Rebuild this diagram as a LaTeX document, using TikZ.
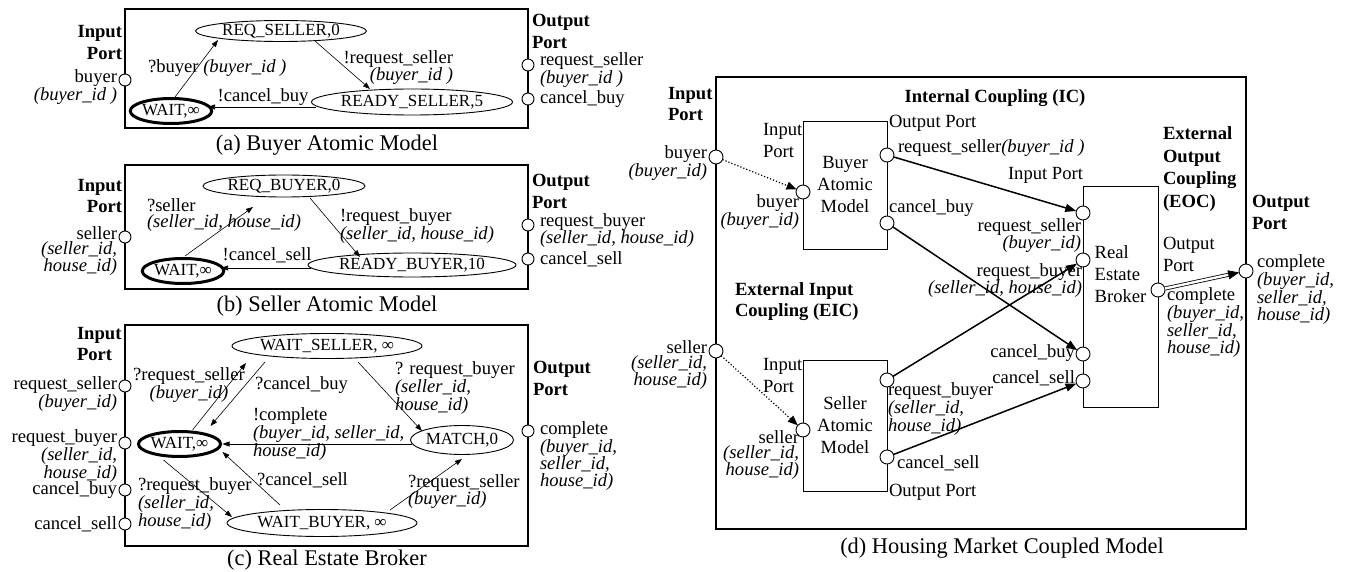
\documentclass[tikz,border=0pt]{standalone}
\usepackage{fontspec}
\setmainfont{Liberation Serif}
\usetikzlibrary{shapes.geometric,arrows.meta,calc}

\begin{document}
\begin{tikzpicture}[x=1pt,y=-1pt,
  every node/.style={inner sep=0pt, outer sep=0pt},
  txt/.style={font=\fontsize{18.6}{15}\selectfont},
  txtw/.style={font=\fontsize{18.6}{22}\selectfont},
  hdr/.style={font=\fontsize{18.6}{21.5}\selectfont\bfseries},
  captxt/.style={font=\fontsize{22.4}{24}\selectfont},
  stnode/.style={ellipse, draw, line width=0.9pt, font=\fontsize{17}{18}\selectfont},
  initst/.style={stnode, line width=3pt},
  port/.style={circle, draw, fill=white, line width=0.9pt, minimum size=12pt},
  bport/.style={port, minimum size=14pt},
  panel/.style={draw, line width=1.1pt},
  mbox/.style={draw, line width=0.9pt, font=\fontsize{18.6}{22}\selectfont},
  trans/.style={line width=0.6pt, -{Triangle[length=7pt,width=5pt]}},
  cpl/.style={line width=1.5pt, -{Triangle[length=11pt,width=8pt]}},
  dotarr/.style={line width=1.2pt, dotted, -{Triangle[length=10pt,width=8pt]}},
  dbl/.style={line width=0.8pt, double, double distance=2.4pt, -{Triangle[length=11pt,width=9pt]}}
]
\useasboundingbox (0,0) rectangle (1345,572);

% ---------------- (a) Buyer atomic model ----------------
\node[panel, minimum width=403pt, minimum height=119pt] (fa) at (326.5,68.5) {};
\node[hdr, align=right, anchor=east] (fa-in) at (122,42.5) {Input\\Port};
\node[hdr, align=left, anchor=west] (fa-out) at (532,31.5) {Output\\Port};
\node[port] (a-buyer) at (125,80) {};
\node[txt, align=right, anchor=east] (a-buyer-l) at (117,87.5) {buyer\\\textit{(buyer\_id )}};
\node[port] (a-rs) at (528,65) {};
\node[txt, align=left, anchor=west] (a-rs-l) at (540,70) {request\_seller\\\textit{(buyer\_id )}};
\node[port] (a-cb) at (528,99) {};
\node[txt, anchor=west] (a-cb-l) at (540,99) {cancel\_buy};
\node[initst, minimum width=75pt, minimum height=25pt] (wa) at (171,111) {WAIT,∞};
\node[stnode, minimum width=171pt, minimum height=21pt] (rs) at (281,31) {REQ\_SELLER,0};
\node[stnode, minimum width=200pt, minimum height=26pt] (rdy) at (412,102) {READY\_SELLER,5};
\draw[trans] ($(wa.center)+(4,-14)$) -- ($(rs.center)+(-63,9)$);
\draw[trans] ($(rs.center)+(34,10)$) -- ($(rdy.center)+(-42,-13)$);
\draw[trans] ($(rdy.center)+(-96,5)$) -- ($(wa.center)+(37,-4)$);
\node[txt, anchor=west] (a-t1) at (148,68) {?buyer \textit{(buyer\_id )}};
\node[txt, align=right, anchor=east] (a-t2) at (453,67.5) {!request\_seller\\\textit{(buyer\_id )}};
\node[txt] (a-t3) at (263,97) {!cancel\_buy};
\node[captxt] (a-cap) at (327,145) {(a) Buyer Atomic Model};

% ---------------- (b) Seller atomic model ----------------
\node[panel, minimum width=403pt, minimum height=124pt] (fb) at (326.5,227) {};
\node[hdr, align=right, anchor=east] (fb-in) at (122,196) {Input\\Port};
\node[hdr, align=left, anchor=west] (fb-out) at (532,191.5) {Output\\Port};
\node[port] (b-seller) at (125,237) {};
\node[txt, align=right, anchor=east] (b-seller-l) at (117,251) {seller\\\textit{(seller\_id,}\\\textit{house\_id)}};
\node[port] (b-rb) at (528,225) {};
\node[txt, align=left, anchor=west] (b-rb-l) at (540,230.5) {request\_buyer\\\textit{(seller\_id, house\_id)}};
\node[port] (b-cs) at (528,259) {};
\node[txt, anchor=west] (b-cs-l) at (540,259) {cancel\_sell};
\node[initst, minimum width=77pt, minimum height=25pt] (wb) at (183,271) {WAIT,∞};
\node[stnode, minimum width=162pt, minimum height=22pt] (rb) at (284,186) {REQ\_BUYER,0};
\node[stnode, minimum width=208pt, minimum height=24pt] (rdb) at (412,265) {READY\_BUYER,10};
\draw[trans] ($(wb.center)+(2,-15)$) -- ($(rb.center)+(-31,21)$);
\draw[trans] ($(rb.center)+(26,12)$) -- ($(rdb.center)+(-52,-8)$);
\draw[trans] ($(rdb.center)+(-101,3)$) -- ($(wb.center)+(38,-3)$);
\node[txt, align=left, anchor=west, font=\fontsize{18.6}{16}\selectfont] (b-t1) at (147,215) {?seller\\\textit{(seller\_id, house\_id)}};
\node[txt, align=left, anchor=west] (b-t2) at (340,226) {!request\_buyer\\\textit{(seller\_id, house\_id)}};
\node[txt] (b-t3) at (267,255) {!cancel\_sell};
\node[captxt] (b-cap) at (327,306) {(b) Seller Atomic Model};

% ---------------- (c) Real estate broker ----------------
\node[panel, minimum width=403pt, minimum height=221pt] (fc) at (326.5,435.5) {};
\node[hdr, align=left, anchor=west] (fc-in) at (77,344) {Input\\Port};
\node[hdr, align=left, anchor=west] (fc-out) at (533,378.5) {Output\\Port};
\node[port] (c-rs) at (125,386) {};
\node[port] (c-rb) at (125,443) {};
\node[port] (c-cb) at (125,490) {};
\node[port] (c-cs) at (125,524) {};
\node[port] (c-co) at (528,431) {};
\node[txt, align=right, anchor=east] (c-rs-l) at (117,394) {request\_seller\\\textit{(buyer\_id)}};
\node[txt, align=right, anchor=east] (c-rb-l) at (117,456) {request\_buyer\\\textit{(seller\_id,}\\\textit{house\_id)}};
\node[txt, anchor=east] (c-cb-l) at (117,490) {cancel\_buy};
\node[txt, anchor=east] (c-cs-l) at (117,524) {cancel\_sell};
\node[txt, align=left, anchor=west] (c-co-l) at (540,456) {complete\\\textit{(buyer\_id,}\\\textit{seller\_id,}\\\textit{house\_id)}};
\node[initst, minimum width=82pt, minimum height=25pt] (wc) at (179.5,444) {WAIT,∞};
\node[stnode, minimum width=190pt, minimum height=25pt] (ws) at (327,346) {WAIT\_SELLER, ∞};
\node[stnode, minimum width=103pt, minimum height=29pt] (mt) at (462,440) {MATCH,0};
\node[stnode, minimum width=190pt, minimum height=27pt] (wbu) at (322,523) {WAIT\_BUYER, ∞};
\draw[trans] ($(wc.center)+(13,-14)$) -- ($(ws.center)+(-81,17)$);
\draw[trans] ($(ws.center)+(-62,16)$) -- ($(wc.center)+(31,-18)$);
\draw[trans] ($(ws.center)+(31,16)$) -- ($(mt.center)+(-40,-9)$);
\draw[trans] ($(mt.center)+(-50,4)$) -- ($(wc.center)+(43,0)$);
\draw[trans] ($(wbu.center)+(-42,-18)$) -- ($(wc.center)+(43,8)$);
\draw[trans] ($(wc.center)+(-16,16)$) -- ($(wbu.center)+(-90,-6)$);
\draw[trans] ($(wbu.center)+(68,-13)$) -- ($(mt.center)+(0,19)$);
\node[txt, align=center] (c-t1) at (189,385) {?request\_seller\\\textit{(buyer\_id)}};
\node[txt, anchor=west] (c-t2) at (255,385) {?cancel\_buy};
\node[txt, align=left, anchor=west] (c-t3) at (395,388) {? request\_buyer\\\textit{(seller\_id,}\\\textit{house\_id)}};
\node[txt, align=left, anchor=west] (c-t4) at (253,434) {!complete\\\textit{(buyer\_id, seller\_id,}\\\textit{house\_id)}};
\node[txt, anchor=west] (c-t5) at (257,480) {?cancel\_sell};
\node[txt, align=left, anchor=west] (c-t6) at (138,504) {?request\_buyer\\\textit{(seller\_id,}\\\textit{house\_id)}};
\node[txt, align=left, anchor=west] (c-t7) at (408,491.5) {?request\_seller\\\textit{(buyer\_id)}};
\node[captxt] (c-cap) at (327,560) {(c) Real Estate Broker};

% ---------------- (d) Housing market coupled model ----------------
\node[panel, minimum width=530pt, minimum height=452pt] (cm) at (981,303) {};
\node[hdr, align=left, anchor=west] (d-in) at (668,104) {Input\\Port};
\node[bport] (d-buyer) at (716,157) {};
\node[txt, align=right, anchor=east] (d-buyer-l) at (707,163.5) {buyer\\\textit{(buyer\_id)}};
\node[bport] (d-seller) at (716,351) {};
\node[txt, align=right, anchor=east] (d-seller-l) at (707,365) {seller\\\textit{(seller\_id,}\\\textit{house\_id)}};
\node[hdr] (d-ic) at (995,98) {Internal Coupling (IC)};

% buyer atomic model
\node[mbox, minimum width=84pt, minimum height=128pt, align=center] (bam) at (845,185) {Buyer\\Atomic\\Model};
\node[txtw, align=left, anchor=west] (bam-in) at (763,141) {Input\\Port};
\node[bport] (bam-i) at (803,192) {};
\node[txt, align=right, anchor=east] (bam-i-l) at (799,212) {buyer\\\textit{(buyer\_id)}};
\node[txt, anchor=west] (bam-out) at (889,123) {Output Port};
\node[bport] (bam-rs) at (887,155) {};
\node[txt, anchor=west] (bam-rs-l) at (898,148) {request\_seller\textit{(buyer\_id )}};
\node[bport] (bam-cb) at (887,223) {};
\node[txt, anchor=west] (bam-cb-l) at (889,208) {cancel\_buy};

\node[hdr, align=left, anchor=west] (d-eic) at (735,301.5) {External Input\\Coupling (EIC)};

% seller atomic model
\node[mbox, minimum width=84pt, minimum height=131pt, align=center] (sam) at (845,425.5) {Seller\\Atomic\\Model};
\node[txtw, align=left, anchor=west] (sam-in) at (763,376) {Input\\Port};
\node[bport] (sam-i) at (803,430) {};
\node[txt, align=right, anchor=east] (sam-i-l) at (799,455) {seller\\\textit{(seller\_id,}\\\textit{house\_id)}};
\node[bport] (sam-rb) at (887,380) {};
\node[txt, align=left, anchor=west] (sam-rb-l) at (888,409) {request\_buyer\\\textit{(seller\_id,}\\\textit{house\_id)}};
\node[bport] (sam-cs) at (887,457) {};
\node[txt, anchor=west] (sam-cs-l) at (897,463) {cancel\_sell};
\node[txt, anchor=west] (sam-out) at (889,492) {Output Port};

% real estate broker
\node[mbox, minimum width=75pt, minimum height=221pt, align=left, text height=13pt] (reb) at (1120.5,296.5) {Real\\Estate\\Broker};
\node[txt, anchor=west] (reb-in) at (1008,175) {Input Port};
\node[bport] (reb-rs) at (1083,213) {};
\node[bport] (reb-rb) at (1083,260) {};
\node[bport] (reb-cb) at (1083,354) {};
\node[bport] (reb-cs) at (1083,381) {};
\node[txt, align=right, anchor=east] (reb-rs-l) at (1081,235.5) {request\_seller\\\textit{(buyer\_id)}};
\node[txt, align=right, anchor=east] (reb-rb-l) at (1082,280.5) {request\_buyer\\\textit{(seller\_id, house\_id)}};
\node[txt, anchor=east] (reb-cb-l) at (1075,353) {cancel\_buy};
\node[txt, anchor=east] (reb-cs-l) at (1075,378) {cancel\_sell};
\node[bport] (reb-co) at (1158,290) {};
\node[txtw, align=left, anchor=west] (reb-out) at (1163,254) {Output\\Port};
\node[txt, align=left, anchor=west] (reb-co-l) at (1167,322.5) {complete\\\textit{(buyer\_id,}\\\textit{seller\_id,}\\\textit{house\_id)}};
\node[hdr, align=left, anchor=west, font=\fontsize{18.6}{22.6}\selectfont\bfseries] (d-eoc) at (1163,169) {External\\Output\\Coupling\\(EOC)};

% coupled model output
\node[hdr, align=left, anchor=west] (d-out) at (1252,212.5) {Output\\Port};
\node[bport] (d-complete) at (1246,271) {};
\node[txt, align=left, anchor=west] (d-complete-l) at (1257,289.5) {complete\\\textit{(buyer\_id,}\\\textit{seller\_id,}\\\textit{house\_id)}};
\node[captxt] (d-cap) at (1002,548) {(d) Housing Market Coupled Model};

% couplings
\draw[dotarr] (d-buyer) -- (bam-i);
\draw[dotarr] (d-seller) -- (sam-i);
\draw[cpl] (bam-rs) -- (reb-rs);
\draw[cpl] (bam-cb) -- (reb-cb);
\draw[cpl] (sam-rb) -- (reb-rb);
\draw[cpl] (sam-cs) -- (reb-cs);
\draw[dbl] (reb-co) -- (d-complete);
\end{tikzpicture}
\end{document}
